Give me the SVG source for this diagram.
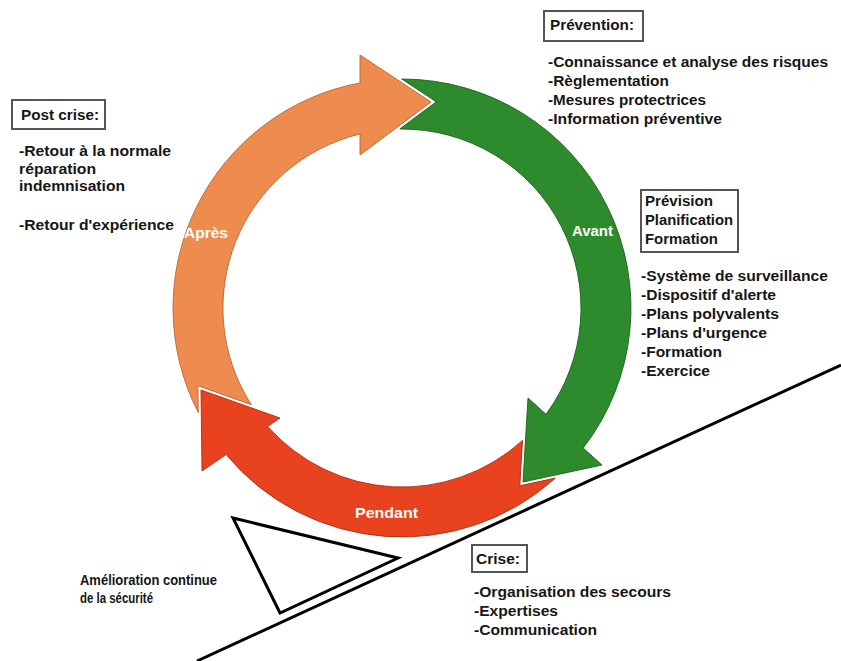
<svg xmlns="http://www.w3.org/2000/svg" width="841" height="661" viewBox="0 0 841 661">
<style>
text{font-family:"Liberation Sans",Arial,sans-serif;font-weight:bold;font-size:14px;fill:#161616}
.lbl{fill:#ffffff;font-size:14px}
.box{fill:none;stroke:#555;stroke-width:2}
.arr{stroke-width:0.9;stroke-linejoin:miter}
.line{fill:none;stroke:#000;stroke-width:3;stroke-linejoin:miter}
</style>
<rect width="841" height="661" fill="#fff"/>
<g id="connectors">
  <g id="arrow-apres">
    <path class="arr" fill="#EE8B4E" stroke="#B8652F" d="M198.3,412.6 A229,229 0 0 1 360,82.9 L360,55 L431,102 L360,155 L360,134 A179,179 0 0 0 251.3,404.7 L197.9,385.7 Z"/>
    <text class="lbl" x="184" y="238" textLength="44" lengthAdjust="spacingAndGlyphs">Après</text>
  </g>
  <g id="arrow-avant">
    <path class="arr" fill="#2D8B2D" stroke="#1D5F1D" d="M401.7,79 A229,229 0 0 1 583.2,448 L602,465 L523,482 L528,398 L546,414.3 A179,179 0 0 0 399.8,129 L436.2,101.8 Z"/>
    <text class="lbl" x="572" y="236" textLength="41" lengthAdjust="spacingAndGlyphs">Avant</text>
  </g>
  <g id="arrow-pendant">
    <path class="arr" fill="#E8421E" stroke="#A8300F" d="M555.3,478.1 A229,229 0 0 1 226.1,454.6 L202,471 L201,390 L280,418 L267.7,426.4 A179,179 0 0 0 522.5,440.4 L519.8,485.8 Z"/>
    <text class="lbl" x="355" y="518" textLength="63" lengthAdjust="spacingAndGlyphs">Pendant</text>
  </g>
</g>
<g id="ramp">
  <line class="line" x1="197" y1="661" x2="841" y2="365"/>
  <polygon class="line" points="233,518 398,558 280,613"/>
</g>
<g id="post-crise">
  <rect class="box" x="12" y="100" width="93" height="29"/>
  <text x="21" y="120" textLength="78" lengthAdjust="spacingAndGlyphs">Post crise:</text>
  <text x="19" y="156" textLength="152" lengthAdjust="spacingAndGlyphs">-Retour à la normale</text>
  <text x="19" y="174" textLength="77" lengthAdjust="spacingAndGlyphs">réparation</text>
  <text x="19" y="191" textLength="106" lengthAdjust="spacingAndGlyphs">indemnisation</text>
  <text x="19" y="230" textLength="155" lengthAdjust="spacingAndGlyphs">-Retour d'expérience</text>
</g>
<g id="prevention">
  <rect class="box" x="544" y="11" width="99" height="30"/>
  <text x="550" y="30" textLength="84" lengthAdjust="spacingAndGlyphs">Prévention:</text>
  <text x="548" y="67" textLength="280" lengthAdjust="spacingAndGlyphs">-Connaissance et analyse des risques</text>
  <text x="548" y="86" textLength="121" lengthAdjust="spacingAndGlyphs">-Règlementation</text>
  <text x="548" y="105" textLength="158" lengthAdjust="spacingAndGlyphs">-Mesures protectrices</text>
  <text x="548" y="124" textLength="174" lengthAdjust="spacingAndGlyphs">-Information préventive</text>
</g>
<g id="prevision">
  <rect class="box" x="641" y="190" width="97" height="62"/>
  <text x="645" y="206" textLength="68" lengthAdjust="spacingAndGlyphs">Prévision</text>
  <text x="645" y="225" textLength="88" lengthAdjust="spacingAndGlyphs">Planification</text>
  <text x="645" y="244" textLength="73" lengthAdjust="spacingAndGlyphs">Formation</text>
  <text x="641" y="281" textLength="187" lengthAdjust="spacingAndGlyphs">-Système de surveillance</text>
  <text x="641" y="300" textLength="135" lengthAdjust="spacingAndGlyphs">-Dispositif d'alerte</text>
  <text x="641" y="319" textLength="138" lengthAdjust="spacingAndGlyphs">-Plans polyvalents</text>
  <text x="641" y="338" textLength="126" lengthAdjust="spacingAndGlyphs">-Plans d'urgence</text>
  <text x="641" y="357" textLength="81" lengthAdjust="spacingAndGlyphs">-Formation</text>
  <text x="641" y="376" textLength="69" lengthAdjust="spacingAndGlyphs">-Exercice</text>
</g>
<g id="crise">
  <rect class="box" x="472" y="545" width="55" height="27"/>
  <text x="476" y="564" textLength="44" lengthAdjust="spacingAndGlyphs">Crise:</text>
  <text x="474" y="597" textLength="197" lengthAdjust="spacingAndGlyphs">-Organisation des secours</text>
  <text x="474" y="616" textLength="84" lengthAdjust="spacingAndGlyphs">-Expertises</text>
  <text x="474" y="635" textLength="123" lengthAdjust="spacingAndGlyphs">-Communication</text>
</g>
<g id="amelioration">
  <text x="80" y="585" textLength="137" lengthAdjust="spacingAndGlyphs">Amélioration continue</text>
  <text x="80" y="603" textLength="73" lengthAdjust="spacingAndGlyphs">de la sécurité</text>
</g>
</svg>
